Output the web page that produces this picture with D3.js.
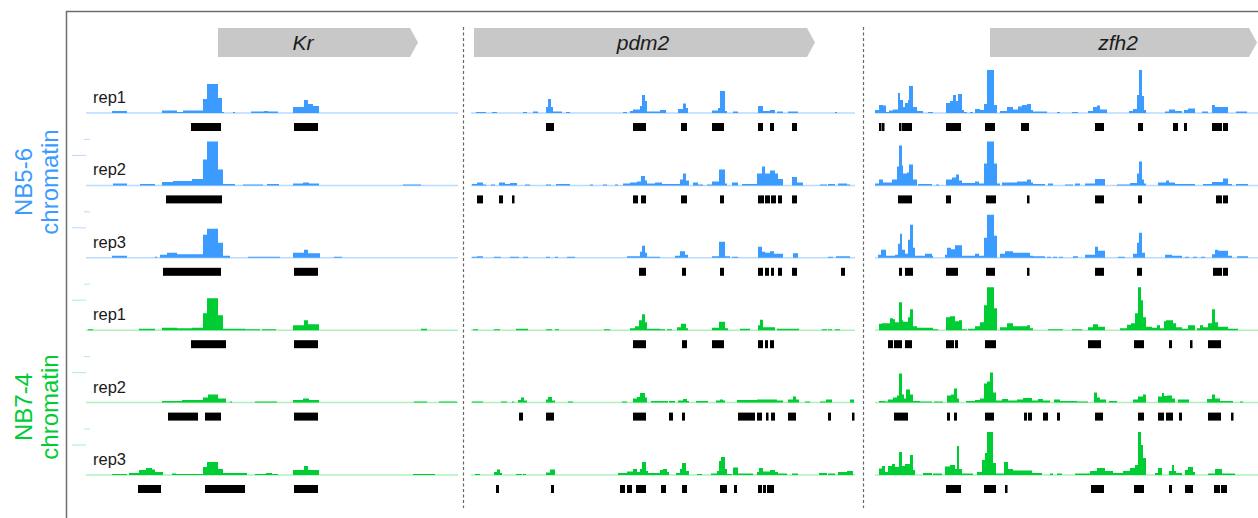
<!DOCTYPE html>
<html>
<head>
<meta charset="utf-8">
<script src="https://cdn.jsdelivr.net/npm/d3@7"></script>
<style>
  body { margin: 0; background: #fff; }
  svg { display: block; font-family: "Liberation Sans", Arial, Helvetica, sans-serif; }
</style>
</head>
<body>
<div id="chart"></div>
<script>
// regions and genes (positions in 100 bp bins from the start of each window)
const panels = ["Kr", "pdm2", "zfh2"];
const panelLength = [372, 384, 383];
const geneStart = [132, 3, 115];
const geneEnd = [332, 344, 382];
const geneLabelAt = [217, 172, 243];

const groups = ["NB5-6\nchromatin", "NB7-4\nchromatin"];
const reps = ["rep1", "rep2", "rep3"];

// signal: [start, end, height] per track; track order NB5-6 rep1-3, NB7-4 rep1-3
const krSignal = [
  [[26,41,2],[76,91,2.5],[91,97,1],[97,117,2.5],[117,121,14],[121,132,29],[132,136,15],[136,138,1],[147,149,1],[165,178,1.5],[178,182,2],[182,192,1.5],[207,218,6],[218,222,13],[222,227,9],[227,233,7]],
  [[27,41,2],[54,69,1.5],[76,87,3.5],[87,106,4.5],[106,117,6.5],[117,121,26],[121,132,44],[132,137,16],[137,149,1.5],[157,177,1],[181,193,1.5],[207,217,2],[217,223,3],[223,233,2],[317,335,1]],
  [[26,41,2],[69,71,1],[74,81,3],[81,91,5],[91,97,3.5],[97,117,3.5],[117,121,23],[121,132,29],[132,137,15],[137,144,2],[162,194,1],[207,218,5],[218,222,8],[222,234,4.5],[248,256,1]],
  [[2,7,1],[53,69,1.5],[76,91,2.5],[91,106,2],[106,117,2.5],[117,121,17],[121,132,32],[132,137,15],[137,159,1.5],[159,174,1],[176,190,1],[207,218,5],[218,222,10],[222,233,6],[335,341,1.5]],
  [[76,96,1.5],[96,117,2.5],[117,122,5],[122,132,8],[132,140,4],[144,146,1],[169,191,1],[207,217,2.5],[217,223,4],[223,233,2.5],[328,341,1],[353,371,1]],
  [[26,41,1],[43,53,2],[53,60,5],[60,66,7],[66,69,5.5],[69,77,3],[86,90,1.5],[90,117,1],[117,121,8],[121,132,13],[132,137,6],[137,161,2],[169,180,1],[180,186,2],[186,192,1],[207,218,5],[218,222,9],[222,233,5],[327,349,1]]
];
const krPeaks = [
  [[105,135],[208,232]],
  [[80,136]],
  [[77,135],[208,232]],
  [[105,140],[208,232]],
  [[82,112],[119,135],[208,232]],
  [[52,75],[119,159],[208,232]]
];

const pdm2Signal = [
  [[5,15,1],[21,26,1],[52,56,1],[62,67,1.5],[75,77,6],[77,80,14],[80,82,6],[82,91,1.5],[95,99,1],[152,156,1],[159,162,2],[162,169,3.5],[169,171,7],[171,174,18],[174,176,12],[176,189,1.5],[189,195,3],[207,212,4],[212,215,9.5],[215,217,5],[241,247,2.5],[247,249,5],[249,254,22],[254,256,2],[262,267,1.5],[287,292,7],[292,299,2],[299,304,3],[306,312,1.5],[317,327,1.5],[364,366,1]],
  [[1,6,1.5],[6,12,3],[12,15,1],[20,24,1],[28,34,3],[34,39,1.5],[39,46,2.5],[54,59,1],[75,80,1],[85,99,1.5],[119,122,1],[132,136,1],[144,147,1],[152,159,2],[159,166,3],[166,170,4],[170,174,9.5],[174,176,5],[176,184,2],[184,191,3],[191,209,1.5],[209,212,6],[212,215,12],[215,218,5],[222,227,3],[227,232,1],[236,241,1],[241,248,4],[248,254,16],[254,256,2],[261,267,3],[271,286,1.5],[286,291,12],[291,294,19],[294,299,12],[299,304,15],[304,307,12],[307,312,6.5],[321,326,8.5],[326,332,3],[349,356,1],[357,364,1.5],[367,376,2],[376,379,1]],
  [[1,6,1],[6,12,1.5],[23,30,1],[39,48,1],[52,57,1],[75,79,1],[84,87,1],[96,104,1],[156,169,1.5],[169,171,6],[171,174,12],[174,176,5],[176,189,1],[204,209,2],[209,214,6.5],[214,217,3],[241,248,1.5],[248,254,16],[254,259,1.5],[261,267,1],[287,291,11],[291,294,6],[294,299,5],[299,303,6.5],[303,306,4],[306,312,4],[322,327,4.5],[357,362,1],[365,379,1.5]],
  [[2,7,1],[23,29,1],[45,57,1.5],[75,81,1],[84,88,1],[133,139,1],[159,164,2],[164,168,4],[168,171,10],[171,174,16],[174,176,8],[176,189,1.5],[189,194,1],[196,201,1],[206,210,3],[210,215,6.5],[215,217,2],[241,248,2.5],[248,254,8.5],[254,257,2],[269,279,1.5],[287,289,5],[289,292,10.5],[292,304,3],[306,328,1.5],[351,356,1],[357,361,1],[364,369,1]],
  [[1,12,1],[30,36,1],[41,43,1],[47,50,2.5],[50,53,5],[53,56,2],[75,77,3],[77,81,5.5],[81,84,2],[97,102,1],[151,156,1],[162,166,4],[166,169,5.5],[169,174,9.5],[174,176,5],[180,192,1.5],[192,197,1.5],[198,204,1.5],[207,212,2],[212,216,3.5],[216,218,1.5],[225,237,1.5],[245,249,2],[249,252,3],[252,254,2],[266,286,2.5],[286,306,3],[306,312,2],[317,322,3],[322,325,6],[325,328,3],[334,339,1],[349,355,1],[355,361,3],[379,383,3]],
  [[4,9,1],[23,26,3],[26,29,5.5],[29,31,2],[45,51,1],[52,55,1],[75,79,2.5],[79,84,5.5],[147,156,2],[156,162,3.5],[162,166,6],[166,169,3],[169,171,6],[171,175,13],[175,177,4],[177,189,2],[189,192,5],[192,196,6],[196,198,3],[205,209,2],[209,211,6],[211,215,12],[215,218,4],[226,231,1],[240,246,1.5],[246,248,4],[248,250,14],[250,254,18],[254,256,6],[256,261,1],[262,267,7.5],[267,282,1.5],[286,288,3],[288,292,7],[292,299,3.5],[299,304,5],[304,307,3],[307,316,1.5],[321,327,1.5],[348,356,2],[357,364,1.5],[367,376,3],[376,382,4]]
];
const pdm2Peaks = [
  [[75,83],[162,175],[210,216],[241,253],[287,292],[299,303],[321,326]],
  [[6,12],[28,32],[41,43],[162,167],[170,175],[210,216],[249,253],[287,293],[294,299],[300,305],[307,311],[321,326]],
  [[168,175],[211,215],[249,253],[287,292],[294,298],[300,303],[307,311],[321,326],[370,374]],
  [[162,175],[211,216],[241,253],[287,292],[294,297],[299,303]],
  [[48,52],[75,83],[162,175],[198,202],[211,214],[267,284],[286,291],[295,297],[300,304],[317,325],[357,360],[381,383]],
  [[25,28],[80,83],[149,154],[156,161],[165,175],[190,195],[211,216],[249,256],[263,266],[287,291],[292,295],[296,303]]
];

const zfh2Signal = [
  [[0,4,3],[4,8,8],[8,11,7.5],[11,14,1],[14,18,2.5],[18,23,3.5],[23,25,20],[25,28,13],[28,30,6],[30,33,10],[33,34,13],[34,38,27],[38,42,6],[42,48,2],[53,58,1],[71,75,10],[75,78,12],[78,81,18],[81,83,12],[83,87,19],[87,89,3],[89,92,1],[95,98,1],[100,105,4],[105,109,3],[109,112,9],[112,119,43],[119,122,8],[125,132,2],[132,138,6],[138,143,3.5],[143,147,6.5],[147,152,8],[152,156,9],[156,158,3],[158,172,1.5],[182,185,1],[197,203,1],[213,218,2],[218,222,6],[222,225,7.5],[225,232,3.5],[254,258,2],[258,262,4],[262,264,18],[264,267,43],[267,269,17],[269,271,3],[290,294,1.5],[294,300,3.5],[300,307,2],[309,313,3],[313,320,4.5],[327,333,1.5],[337,340,8],[340,353,6],[361,372,1.5]],
  [[0,4,2],[4,8,6],[8,17,3],[17,22,6],[22,24,19],[24,27,40],[27,28,20],[28,32,12],[32,34,13],[34,38,21],[38,42,6],[43,57,1.5],[61,64,1],[71,77,6],[77,81,8],[81,84,11],[84,87,5],[87,100,2.5],[100,104,4],[104,109,2],[109,112,22],[112,119,44],[119,122,22],[122,125,2],[127,142,3],[142,152,4],[152,156,6],[156,158,3],[158,170,1.5],[173,178,2],[190,198,1],[200,205,2],[210,220,2],[220,230,6.5],[242,255,1],[255,262,2.5],[262,264,12],[264,267,24],[267,269,6],[269,271,2],[283,291,3],[291,294,5],[294,300,3],[300,320,1.5],[328,337,1.5],[337,348,3.5],[348,353,7],[353,357,1.5],[361,373,1.5]],
  [[3,6,3],[6,11,8],[11,20,2],[20,23,3],[23,25,14],[25,27,24],[27,30,8],[30,33,4],[33,35,18],[35,38,33],[38,40,10],[40,50,2],[50,57,4],[57,58,2],[70,72,3],[72,76,10],[76,80,8.5],[80,87,12.5],[87,100,2],[100,104,4],[104,109,2],[109,112,20],[112,119,43],[119,122,22],[125,130,4],[130,138,6.5],[138,155,5],[155,158,2],[158,170,1.5],[172,176,1],[178,182,1],[184,188,1],[198,203,1.5],[210,220,3],[220,223,11],[223,230,7],[243,250,1],[258,262,4],[262,264,15],[264,267,25],[267,270,5],[290,297,3],[297,307,2],[310,314,1],[318,322,1],[326,330,1],[337,340,3.5],[340,343,8],[343,353,7],[353,357,2],[362,373,1.5]],
  [[4,7,6.5],[7,15,7],[15,18,12],[18,20,11],[20,24,8],[24,27,28],[27,28,10],[28,33,8.5],[33,35,13],[35,38,21],[38,42,4],[42,58,2.5],[58,63,1],[71,75,13],[75,80,14],[80,84,9],[84,87,10],[87,92,1],[93,100,1.5],[100,105,4],[105,109,8],[109,112,25],[112,119,43],[119,122,22],[125,132,3],[132,138,7],[138,152,4],[152,155,5],[155,158,2],[173,188,1],[197,207,1],[213,218,3],[218,223,6],[223,230,3.5],[245,252,2],[252,256,5.5],[256,260,7],[260,263,17],[263,266,43],[266,268,30],[268,271,13],[271,277,3.5],[277,282,2.5],[282,285,5],[285,289,2],[289,291,9],[291,298,10],[298,301,7],[301,307,3],[307,313,1.5],[313,320,5],[322,325,2],[325,328,5],[328,333,3],[333,337,7],[337,340,21],[340,343,8],[343,353,3.5],[353,363,1.5]],
  [[4,10,1.5],[10,13,1],[13,18,3],[18,22,5],[22,24,7],[24,27,29],[27,29,8],[29,31,4],[31,35,13],[35,38,8],[38,45,1.5],[45,57,1],[59,68,1],[72,76,7],[76,79,8],[79,82,14],[82,84,4],[91,100,1.5],[100,105,2.5],[105,109,4],[109,112,19],[112,115,21],[115,118,30],[118,121,10],[121,127,2],[127,133,3.5],[133,142,2],[142,148,3],[148,157,4.5],[157,163,2],[163,168,3.5],[168,175,2],[179,185,3],[185,202,1.5],[202,213,1],[219,222,10],[222,225,5],[225,231,3],[234,242,1.5],[258,263,3],[263,268,6],[268,271,8],[283,287,6],[287,289,9.5],[289,292,6.5],[292,297,7],[297,300,4],[303,314,3],[332,337,3.5],[337,340,8],[340,345,4],[345,358,1.5],[365,368,1]],
  [[4,7,6.5],[7,10,9],[10,13,3],[13,17,9],[17,20,11],[20,24,8],[24,27,23],[27,30,9],[30,35,11],[35,38,20],[38,40,5],[48,57,2],[58,67,1.5],[70,75,8.5],[75,80,10],[80,82,6],[82,84,29],[84,87,6],[87,98,1.5],[102,107,3],[107,110,15],[110,112,22],[112,118,43],[118,121,12],[121,129,1.5],[129,133,13],[133,138,6],[138,157,4.5],[157,167,2],[175,178,1.5],[182,187,1.5],[200,215,1.5],[215,222,4],[222,230,7],[230,238,4],[238,248,2],[248,255,4],[255,260,7],[260,263,10],[263,266,43],[266,268,30],[268,271,17],[280,283,2],[283,287,7],[294,297,4],[297,299,10],[299,301,4],[301,307,2],[310,313,5],[313,318,8],[318,320,3],[333,340,1.5],[340,347,6],[347,360,1.5]]
];
const zfh2Peaks = [
  [[4,6],[7,9],[24,26],[27,37],[71,86],[110,120],[146,154],[220,229],[263,268],[298,303],[309,312],[337,347],[348,353]],
  [[23,37],[71,76],[111,121],[152,154],[220,229],[263,267],[341,347],[348,353]],
  [[24,27],[30,38],[71,83],[111,120],[152,154],[220,229],[262,267],[338,347],[348,353]],
  [[13,18],[19,27],[30,37],[71,79],[80,83],[110,121],[213,226],[259,262],[262,269],[294,297],[315,317],[333,346]],
  [[19,33],[72,75],[79,82],[110,119],[149,152],[153,157],[168,173],[182,185],[220,228],[263,269],[283,289],[291,298],[304,307],[333,346],[356,358]],
  [[71,72],[73,86],[109,121],[130,132],[216,229],[259,269],[294,297],[310,318],[339,345],[346,352]]
];

const signals = [krSignal, pdm2Signal, zfh2Signal];
const peaks = [krPeaks, pdm2Peaks, zfh2Peaks];

const W = 1258, H = 518;
const colors = ["#3b9bff", "#00cc33"];
const baseColors = ["#b8dbff", "#aef0bd"];
const panelRange = [[86, 458], [471, 855], [875, 1258]];
const sepX = [463, 863];

const svg = d3.select("#chart").append("svg")
  .attr("width", W)
  .attr("height", H);

// frame
svg.append("path")
  .attr("d", `M66.5,${H} V11.5 H${W}`)
  .attr("fill", "none")
  .attr("stroke", "#6e6e6e")
  .attr("stroke-width", 1.5);

sepX.forEach(x => {
  svg.append("line")
    .attr("x1", x + 0.5).attr("x2", x + 0.5)
    .attr("y1", 27).attr("y2", 508)
    .attr("stroke", "#666")
    .attr("stroke-width", 1.2)
    .attr("stroke-dasharray", "3,2.5");
});

const trackY = d3.scaleLinear().domain([0, 5]).range([113, 475]);
const nTracks = groups.length * reps.length;

panels.forEach((name, p) => {
  const x = d3.scaleLinear().domain([0, panelLength[p]]).range(panelRange[p]);
  const g = svg.append("g");

  // gene model arrow
  const gx0 = x(geneStart[p]), gx1 = x(geneEnd[p]);
  const top = 28, bot = 57, tip = 8;
  g.append("path")
    .attr("d", `M${gx0},${top} H${gx1 - tip} L${gx1},${(top + bot) / 2} L${gx1 - tip},${bot} H${gx0} Z`)
    .attr("fill", "#c8c8c8");
  g.append("text")
    .attr("x", x(geneLabelAt[p]))
    .attr("y", 50)
    .attr("text-anchor", "middle")
    .attr("font-style", "italic")
    .attr("font-size", 21)
    .attr("fill", "#1c1c1c")
    .text(name);

  d3.range(nTracks).forEach(t => {
    const grp = Math.floor(t / reps.length);
    const base = trackY(t);
    const y = d3.scaleLinear().domain([0, 44]).range([base, base - 44]);

    g.append("line")
      .attr("x1", x(0)).attr("x2", x(panelLength[p]))
      .attr("y1", base).attr("y2", base)
      .attr("stroke", baseColors[grp])
      .attr("stroke-width", 1.5);

    const segs = signals[p][t];
    const pts = [];
    segs.forEach((s, i) => {
      const prev = segs[i - 1], next = segs[i + 1];
      if (!prev || prev[1] !== s[0]) pts.push([s[0], 0]);
      pts.push([s[0], s[2]]);
      if (!next || next[0] !== s[1]) pts.push([s[1], 0]);
    });
    g.append("path")
      .datum(pts)
      .attr("fill", colors[grp])
      .attr("d", d3.area()
        .curve(d3.curveStepAfter)
        .x(d => x(d[0]))
        .y0(base)
        .y1(d => y(d[1])));

    g.selectAll(null)
      .data(peaks[p][t])
      .join("rect")
      .attr("x", d => x(d[0]))
      .attr("width", d => Math.max(2.5, x(d[1]) - x(d[0])))
      .attr("y", base + 10)
      .attr("height", 8)
      .attr("fill", "#000");

    if (p === 0) {
      g.append("text")
        .attr("x", 93)
        .attr("y", base - 10)
        .attr("font-size", 16.5)
        .attr("fill", "#1a1a1a")
        .text(reps[t % reps.length]);
      if (t > 0) {
        g.append("line")
          .attr("x1", 84).attr("x2", 90)
          .attr("y1", base - 46).attr("y2", base - 46)
          .attr("stroke", baseColors[grp]).attr("stroke-width", 1);
        g.append("line")
          .attr("x1", 72).attr("x2", 86)
          .attr("y1", base - 30).attr("y2", base - 30)
          .attr("stroke", baseColors[grp]).attr("stroke-width", 1);
      }
    }
  });
});

// group labels (rotated, two lines)
const groupCenter = [182, 407];
groups.forEach((label, i) => {
  const lines = label.split("\n");
  const t = svg.append("text")
    .attr("transform", `translate(0,${groupCenter[i]}) rotate(-90)`)
    .attr("text-anchor", "middle")
    .attr("font-size", 24)
    .attr("fill", colors[i]);
  lines.forEach((ln, k) => {
    t.append("tspan")
      .attr("x", 0)
      .attr("y", k === 0 ? 32 : 58)
      .text(ln);
  });
});
</script>
</body>
</html>
